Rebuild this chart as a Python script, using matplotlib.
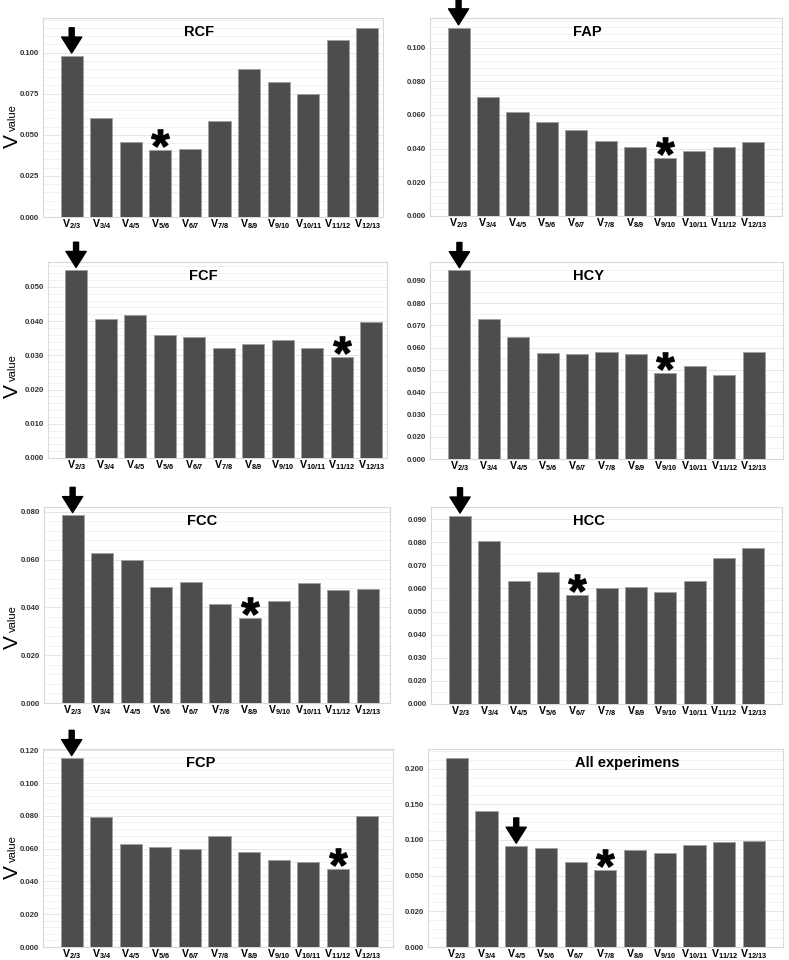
import numpy as np
import matplotlib
matplotlib.use('Agg')
import matplotlib.pyplot as plt
from matplotlib.ticker import AutoMinorLocator
from matplotlib.transforms import offset_copy
from matplotlib.textpath import TextPath
from matplotlib.font_manager import FontProperties
from matplotlib.path import Path

plt.rcParams['font.family'] = ['Liberation Sans', 'DejaVu Sans']
plt.rcParams['mathtext.fontset'] = 'custom'
plt.rcParams['mathtext.rm'] = 'Liberation Sans'
plt.rcParams['mathtext.bf'] = 'Liberation Sans:bold'

# данные
pairs = ['2/3', '3/4', '4/5', '5/6', '6/7', '7/8', '8/9', '9/10', '10/11', '11/12', '12/13']
names = ['RCF', 'FAP', 'FCF', 'HCY', 'FCC', 'HCC', 'FCP', 'All experimens']

rcf = [0.098, 0.060, 0.0455, 0.0407, 0.0413, 0.0583, 0.090, 0.0819, 0.0746, 0.1077, 0.115]
fap = [0.1119, 0.0708, 0.0615, 0.0556, 0.051, 0.0448, 0.041, 0.0347, 0.0385, 0.041, 0.0438]
fcf = [0.0549, 0.0405, 0.0419, 0.036, 0.0354, 0.0322, 0.0333, 0.0345, 0.0321, 0.0296, 0.0398]
hcy = [0.0946, 0.073, 0.0649, 0.0575, 0.0569, 0.0579, 0.0573, 0.0485, 0.0518, 0.0478, 0.0579]
fcc = [0.0785, 0.0628, 0.0598, 0.0486, 0.0508, 0.0416, 0.0356, 0.0427, 0.0501, 0.0473, 0.0477]
hcc = [0.0914, 0.0803, 0.0633, 0.0673, 0.0573, 0.0603, 0.0607, 0.0583, 0.0634, 0.0733, 0.0774]
fcp = [0.1151, 0.0796, 0.0629, 0.0608, 0.060, 0.0676, 0.0582, 0.0531, 0.052, 0.0473, 0.080]
all_exp = [0.215, 0.1406, 0.0916, 0.0887, 0.0688, 0.0575, 0.0856, 0.0814, 0.0925, 0.0972, 0.0981]
series = [rcf, fap, fcf, hcy, fcc, hcc, fcp, all_exp]

# подписи оси y (как на исходнике, шаг не всегда равномерный)
ticks_rcf = ['0.000', '0.025', '0.050', '0.075', '0.100']
ticks_fap = ['0.000', '0.020', '0.040', '0.060', '0.080', '0.100']
ticks_fcf = ['0.000', '0.010', '0.020', '0.030', '0.040', '0.050']
ticks_hcy = ['0.000', '0.020', '0.030', '0.040', '0.050', '0.060', '0.070', '0.080', '0.090']
ticks_fcc = ['0.000', '0.020', '0.040', '0.060', '0.080']
ticks_hcc = ['0.000', '0.020', '0.030', '0.040', '0.050', '0.060', '0.070', '0.080', '0.090']
ticks_fcp = ['0.000', '0.020', '0.040', '0.060', '0.080', '0.100', '0.120']
ticks_all = ['0.000', '0.020', '0.050', '0.100', '0.150', '0.200']
tick_sets = [ticks_rcf, ticks_fap, ticks_fcf, ticks_hcy, ticks_fcc, ticks_hcc, ticks_fcp, ticks_all]

arrow_idx = [0, 0, 0, 0, 0, 0, 0, 2]
star_idx = [3, 7, 9, 7, 6, 4, 9, 5]

# раскладка (пиксели: left, top, right, bottom)
W, H = 789, 960
rects = [(43, 18, 383, 217), (430, 18, 782, 216),
         (48, 262, 387, 458), (430, 262, 783, 459),
         (44, 507, 390, 703), (431, 507, 782, 704),
         (43, 749, 393, 947), (428, 749, 783, 947)]
ytop = [4.84, 5.88, 5.73, 8.84, 4.10, 8.52, 6.04, 5.55]
xlims = [(-0.97, 10.53), (-0.97, 10.98), (-0.95, 10.53), (-1.0, 11.0),
         (-0.97, 10.76), (-0.99, 10.98), (-0.97, 10.87), (-0.97, 10.98)]
title_x = [0.46, 0.446, 0.457, 0.448, 0.457, 0.45, 0.451, 0.56]
minor_n = [5, 5, 5, 2, 5, 2, 5, 4]
ylab_y = [127, 377, 628, 858]


def to_axis(vals, labels):
    lab = np.array([float(s) for s in labels])
    pos = np.arange(len(lab), dtype=float)
    vals = np.asarray(vals, dtype=float)
    out = np.interp(vals, lab, pos)
    hi = vals > lab[-1]
    out[hi] = pos[-1] + (vals[hi] - lab[-1]) / (lab[-1] - lab[-2])
    return out


# звёздочка как маркер из глифа (центрируем по реальным границам)
tp = TextPath((0, 0), '*', prop=FontProperties(family='Liberation Sans', weight='bold'))
ext = tp.get_extents()
v = tp.vertices.copy()
v -= [(ext.x0 + ext.x1) / 2, (ext.y0 + ext.y1) / 2]
v[tp.codes == Path.CLOSEPOLY] = v[tp.codes == Path.MOVETO][0]
star = Path(v, tp.codes)

fig = plt.figure(figsize=(W / 100, H / 100), dpi=100)
xlabels = [r'$\mathbf{V_{%s}}$' % p for p in pairs]
x = np.arange(len(pairs))

for k in range(8):
    l, t, r, b = rects[k]
    ax = fig.add_axes([l / W, 1 - b / H, (r - l) / W, (b - t) / H])
    h = to_axis(series[k], tick_sets[k])
    ax.bar(x, h, width=0.75, color='#4d4d4d', edgecolor='#a0a0a0', linewidth=0.7, zorder=3)

    ax.set_xlim(*xlims[k])
    ax.set_ylim(0, ytop[k])
    ax.set_yticks(np.arange(len(tick_sets[k])))
    ax.set_yticklabels(tick_sets[k], fontsize=5.6, fontweight='bold', color='#333333')
    ax.yaxis.set_minor_locator(AutoMinorLocator(minor_n[k]))
    ax.set_xticks(x)
    ax.set_xticklabels(xlabels, fontsize=7.6)
    ax.tick_params(axis='both', which='both', length=0)
    ax.tick_params(axis='x', pad=0.5)
    ax.tick_params(axis='y', pad=3)
    ax.grid(axis='y', which='major', color='#e6e6e6', linewidth=0.7, zorder=0)
    ax.grid(axis='y', which='minor', color='#f0f0f0', linewidth=0.6, zorder=0)
    for sp in ax.spines.values():
        sp.set_color('#d9d9d9')
        sp.set_linewidth(0.8)

    ax.text(title_x[k], 0.93, names[k], transform=ax.transAxes, ha='center', va='center',
            fontsize=10.5, fontweight='bold')

    ai = arrow_idx[k]
    ax.annotate('', xy=(ai, h[ai]), xytext=(0, 28), textcoords='offset pixels',
                annotation_clip=False,
                arrowprops=dict(arrowstyle='simple,head_length=1.15,head_width=1.45,tail_width=0.36',
                                mutation_scale=10, color='black', shrinkA=0, shrinkB=2))

    si = star_idx[k]
    tr = offset_copy(ax.transData, fig=fig, x=0, y=12, units='dots')
    ax.plot([si], [h[si]], marker=star, markersize=13, markeredgewidth=0.8,
            color='black', transform=tr, clip_on=False, zorder=5)

    if k % 2 == 0:
        yc = ylab_y[k // 2]
        fig.text(12 / W, 1 - (yc + 14) / H, 'V', rotation=90,
                 ha='center', va='center', fontsize=15)
        fig.text(13 / W, 1 - (yc - 9) / H, 'value', rotation=90,
                 ha='center', va='center', fontsize=8)

fig.savefig('out.png', dpi=100)
